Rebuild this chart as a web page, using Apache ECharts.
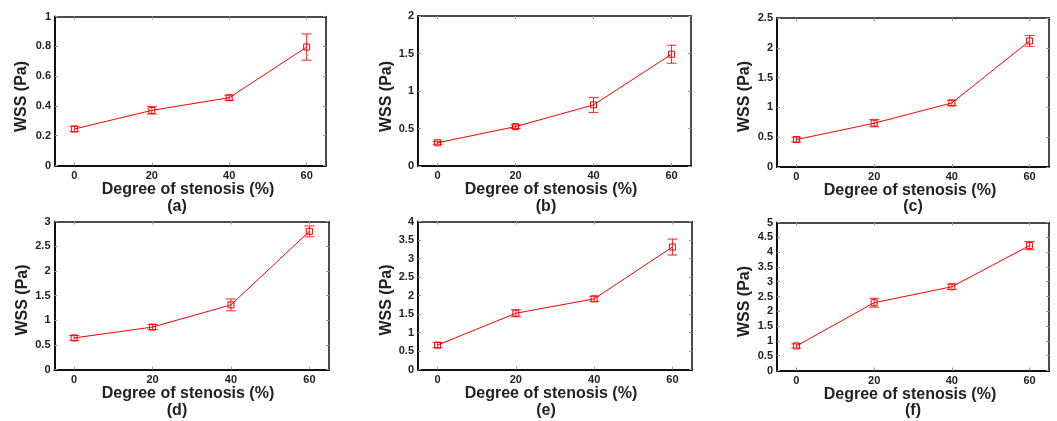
<!DOCTYPE html>
<html>
<head>
<meta charset="utf-8">
<script src="https://cdn.jsdelivr.net/npm/echarts@6/dist/echarts.min.js"></script>
<style>
html,body{margin:0;padding:0;background:#fff;}
#chart{width:1057px;height:421px;}
</style>
</head>
<body>
<div id="chart"></div>
<script>
// ---- Data ----
const stenosis = [0, 20, 40, 60];
const xTickLabels = [0, 20, 40, 60];
const panelLabels = ['(a)', '(b)', '(c)', '(d)', '(e)', '(f)'];
const xTitle = 'Degree of stenosis (%)';
const yTitle = 'WSS (Pa)';
const wssA = [0.245, 0.37, 0.455, 0.795];
const errA = [0.018, 0.025, 0.017, 0.088];
const wssB = [0.31, 0.525, 0.815, 1.49];
const errB = [0.02, 0.025, 0.1, 0.12];
const wssC = [0.46, 0.735, 1.075, 2.115];
const errC = [0.04, 0.06, 0.045, 0.09];
const wssD = [0.64, 0.86, 1.31, 2.80];
const errD = [0.05, 0.05, 0.12, 0.11];
const wssE = [0.66, 1.52, 1.91, 3.31];
const errE = [0.07, 0.095, 0.07, 0.215];
const wssF = [0.83, 2.29, 2.83, 4.22];
const errF = [0.07, 0.15, 0.09, 0.14];
const yMax = [1, 2, 2.5, 3, 4, 5];
const yInterval = [0.2, 0.5, 0.5, 0.5, 0.5, 0.5];

const values = [wssA, wssB, wssC, wssD, wssE, wssF];
const errors = [errA, errB, errC, errD, errE, errF];

// ---- Layout ----
const grids = [
  {left: 55, top: 16.5, width: 271, height: 149},
  {left: 418, top: 16, width: 273, height: 150},
  {left: 777, top: 18, width: 272, height: 149},
  {left: 54.5, top: 221.5, width: 274.5, height: 148},
  {left: 418, top: 221.5, width: 274, height: 148},
  {left: 777, top: 222.5, width: 272, height: 148}
];
const labelPos = [[177, 206.5], [546, 206.5], [913, 206.5], [177, 411], [546, 411], [913, 411]];
const yNamePos = [[21.5, 96.5], [386.5, 96.5], [745, 96.5], [23, 300], [386.5, 300], [745, 301.5]];
const xNamePos = [[188, 190], [551, 190], [910, 190.5], [188, 394], [551, 394], [910, 395]];

const FONT = '"Liberation Sans", Arial, sans-serif';
const RED = '#ff0000';

const xAxes = [], yAxes = [], series = [], graphics = [];
grids.forEach((g, i) => {
  xAxes.push({
    type: 'value', gridIndex: i, position: 'bottom', min: -5, max: 65,
    axisLine: {show: true, onZero: false, lineStyle: {color: '#111', width: 2}},
    axisTick: {show: true, inside: true, length: 3, customValues: xTickLabels, lineStyle: {color: '#999'}},
    axisLabel: {customValues: xTickLabels, fontFamily: FONT, fontWeight: 'bold', fontSize: 11, color: '#222', margin: 4.5},
    splitLine: {show: false}
  });
  xAxes.push({
    type: 'value', gridIndex: i, position: 'top', min: -5, max: 65,
    axisLine: {show: true, onZero: false, lineStyle: {color: '#111', width: 1.5}},
    axisTick: {show: true, inside: true, length: 3, customValues: xTickLabels, lineStyle: {color: '#999'}},
    axisLabel: {show: false},
    splitLine: {show: false}
  });
  yAxes.push({
    type: 'value', gridIndex: i, position: 'left', min: 0, max: yMax[i], interval: yInterval[i],
    axisLine: {show: true, onZero: false, lineStyle: {color: '#111', width: 2}},
    axisTick: {show: true, inside: true, length: 3, lineStyle: {color: '#999'}},
    axisLabel: {fontFamily: FONT, fontWeight: 'bold', fontSize: 11, color: '#222', margin: 4},
    splitLine: {show: false}
  });
  yAxes.push({
    type: 'value', gridIndex: i, position: 'right', min: 0, max: yMax[i], interval: yInterval[i],
    axisLine: {show: true, onZero: false, lineStyle: {color: '#111', width: 1.5}},
    axisTick: {show: true, inside: true, length: 3, lineStyle: {color: '#999'}},
    axisLabel: {show: false},
    splitLine: {show: false}
  });

  const lineData = stenosis.map((x, k) => [x, values[i][k]]);
  const errData = stenosis.map((x, k) => [x, values[i][k] - errors[i][k], values[i][k] + errors[i][k]]);

  series.push({
    type: 'custom', xAxisIndex: 2 * i, yAxisIndex: 2 * i, z: 3,
    data: errData,
    encode: {x: 0, y: [1, 2]},
    renderItem: function (params, api) {
      const x = api.value(0);
      const lo = api.coord([x, api.value(1)]);
      const hi = api.coord([x, api.value(2)]);
      const w = 5;
      const st = {stroke: 'rgba(255,0,0,0.85)', lineWidth: 1};
      return {
        type: 'group',
        children: [
          {type: 'line', shape: {x1: hi[0], y1: hi[1], x2: lo[0], y2: lo[1]}, style: st},
          {type: 'line', shape: {x1: hi[0] - w, y1: hi[1], x2: hi[0] + w, y2: hi[1]}, style: st},
          {type: 'line', shape: {x1: lo[0] - w, y1: lo[1], x2: lo[0] + w, y2: lo[1]}, style: st}
        ]
      };
    }
  });
  series.push({
    type: 'line', xAxisIndex: 2 * i, yAxisIndex: 2 * i, z: 4,
    data: lineData,
    symbol: 'rect', symbolSize: 6,
    lineStyle: {color: RED, width: 1},
    itemStyle: {color: 'rgba(255,255,255,0)', borderColor: RED, borderWidth: 1},
    emphasis: {disabled: true},
    animation: false
  });

  graphics.push({
    type: 'text', x: labelPos[i][0], y: labelPos[i][1],
    style: {text: panelLabels[i], font: 'bold 16px ' + FONT, fill: '#222', textAlign: 'center', textVerticalAlign: 'middle'}
  });
  graphics.push({
    type: 'text', x: xNamePos[i][0], y: xNamePos[i][1],
    style: {text: xTitle, font: 'bold 16px ' + FONT, fill: '#222', textAlign: 'center', textVerticalAlign: 'middle'}
  });
  graphics.push({
    type: 'text', x: yNamePos[i][0], y: yNamePos[i][1], rotation: Math.PI / 2,
    style: {text: yTitle, font: 'bold 16px ' + FONT, fill: '#222', textAlign: 'center', textVerticalAlign: 'middle'}
  });
});

const chart = echarts.init(document.getElementById('chart'), null, {renderer: 'canvas'});
chart.setOption({
  backgroundColor: '#ffffff',
  animation: false,
  grid: grids,
  xAxis: xAxes,
  yAxis: yAxes,
  series: series,
  graphic: graphics
});
</script>
</body>
</html>
